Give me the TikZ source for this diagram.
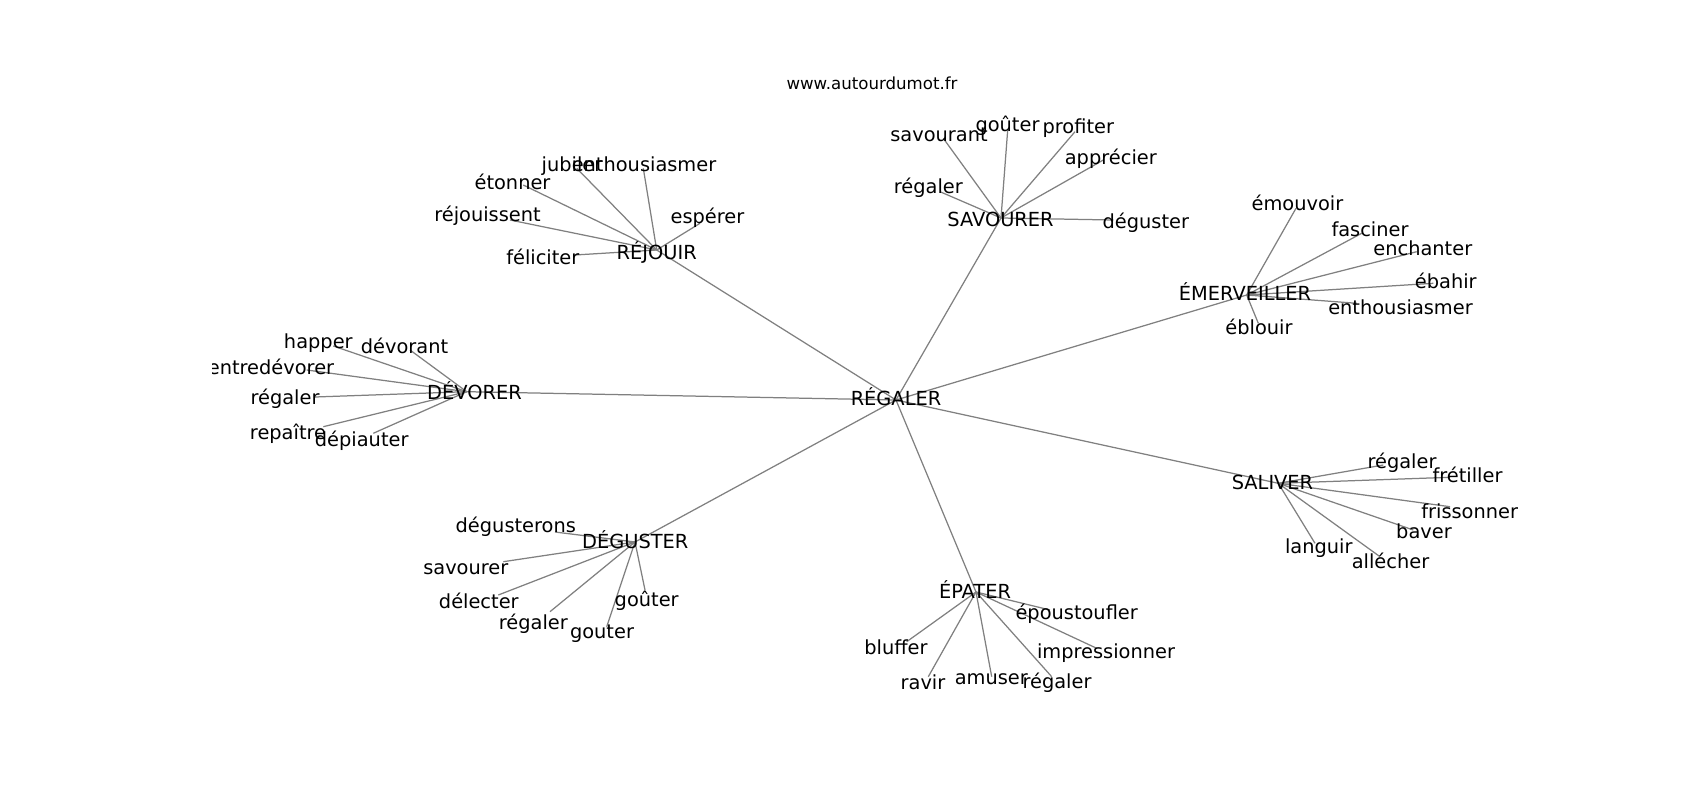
\documentclass[tikz,border=0pt]{standalone}
\usepackage{fontspec}
\setmainfont{DejaVu Sans}
\usetikzlibrary{backgrounds}

\begin{document}
\begin{tikzpicture}[x=0.01in, y=-0.01in,
              word/.style = {anchor=base, inner sep=0pt, yshift=-1pt, font=\fontsize{14}{16}\selectfont},
              link/.style = {draw=black!50, line width=0.9pt}]
  \useasboundingbox (0,0) rectangle (1700,800);
  \node[word, font=\fontsize{12}{14}\selectfont] (site) at (872,88) {www.autourdumot.fr};
  \begin{scope}
  \clip (212.5,96) rectangle (1530,712);
  % centre
  \coordinate (regaler) at (896,400);
  \node[word] (regaler-t) at (896,404) {RÉGALER};
  % hubs: name/point/label/text
  \foreach \n/\px/\py/\lx/\ly/\t in {
      rejouir/656.7/250/656.7/258.3/RÉJOUIR,
      savourer/1001/218/1000.5/225/SAVOURER,
      emerveiller/1246.7/295/1245/299.3/ÉMERVEILLER,
      saliver/1278.3/483.3/1272.5/488.3/SALIVER,
      epater/976/592/975/596.7/ÉPATER,
      deguster/635/542/635.3/546.7/DÉGUSTER,
      devorer/466.7/391.7/474.5/398.3/DÉVORER}{
    \coordinate (\n) at (\px,\py);
    \node[word] (\n-t) at (\lx,\ly) {\t};
    \begin{scope}[on background layer]
      \draw[link] (regaler) -- (\n);
    \end{scope}
  }
  % leaves of RÉJOUIR
  \foreach \n/\px/\py/\lx/\ly/\t in {
      feliciter/575/255/542.8/262.7/féliciter,
      rejouissent/510/220/487.5/220/réjouissent,
      etonner/523.3/185/512.5/188.3/étonner,
      jubiler/576.7/168.3/572/170/jubiler,
      enthousiasmerA/643.3/168.3/644/170/enthousiasmer,
      esperer/700/223.3/707.5/221.7/espérer}{
    \coordinate (\n) at (\px,\py);
    \node[word] (\n-t) at (\lx,\ly) {\t};
    \begin{scope}[on background layer]
      \draw[link] (rejouir) -- (\n);
    \end{scope}
  }
  % leaves of SAVOURER
  \foreach \n/\px/\py/\lx/\ly/\t in {
      savourant/943.3/138.3/939/140/savourant,
      gouterA/1007.7/130/1007.5/130/goûter,
      profiter/1075/131.7/1078.3/131.7/profiter,
      apprecier/1103.3/160/1110.8/162.7/apprécier,
      regalerA/940/191.7/928.3/191.7/régaler,
      degusterA/1113.3/220/1145.8/226.7/déguster}{
    \coordinate (\n) at (\px,\py);
    \node[word] (\n-t) at (\lx,\ly) {\t};
    \begin{scope}[on background layer]
      \draw[link] (savourer) -- (\n);
    \end{scope}
  }
  % leaves of ÉMERVEILLER
  \foreach \n/\px/\py/\lx/\ly/\t in {
      emouvoir/1296/208.3/1297.5/209.3/émouvoir,
      fasciner/1361.7/233.3/1370/235/fasciner,
      enchanter/1416.7/251.7/1422.8/254/enchanter,
      ebahir/1433.3/283.3/1445.8/286.7/ébahir,
      enthousiasmerB/1356.7/303.3/1400.5/312.7/enthousiasmer,
      eblouir/1258.3/323.3/1259/333.3/éblouir}{
    \coordinate (\n) at (\px,\py);
    \node[word] (\n-t) at (\lx,\ly) {\t};
    \begin{scope}[on background layer]
      \draw[link] (emerveiller) -- (\n);
    \end{scope}
  }
  % leaves of SALIVER
  \foreach \n/\px/\py/\lx/\ly/\t in {
      regalerB/1383.3/465/1402/466.7/régaler,
      fretiller/1450/477.3/1467.5/480.7/frétiller,
      frissonner/1450/506.7/1469.7/516.7/frissonner,
      baver/1413.3/530/1424/537.3/baver,
      languir/1315/543.3/1318.8/551.7/languir,
      allecher/1380/556.7/1390.5/566.7/allécher}{
    \coordinate (\n) at (\px,\py);
    \node[word] (\n-t) at (\lx,\ly) {\t};
    \begin{scope}[on background layer]
      \draw[link] (saliver) -- (\n);
    \end{scope}
  }
  % leaves of ÉPATER
  \foreach \n/\px/\py/\lx/\ly/\t in {
      epoustoufler/1050/610/1076.7/618.3/époustoufler,
      impressionner/1096.7/648.3/1106/657.3/impressionner,
      bluffer/906.7/641.7/896/653.3/bluffer,
      ravir/928.3/676.7/923/688.3/ravir,
      amuser/991.7/676.7/991.3/683.3/amuser,
      regalerC/1051.7/676.7/1057/686.7/régaler}{
    \coordinate (\n) at (\px,\py);
    \node[word] (\n-t) at (\lx,\ly) {\t};
    \begin{scope}[on background layer]
      \draw[link] (epater) -- (\n);
    \end{scope}
  }
  % leaves of DÉGUSTER
  \foreach \n/\px/\py/\lx/\ly/\t in {
      degusterons/555/532/515.8/530.7/dégusterons,
      savourerA/503.3/561.7/465.8/572.7/savourer,
      delecter/498.3/595/478.8/607.3/délecter,
      regalerD/550/611.7/533.3/628.3/régaler,
      gouterB/606.7/626.7/602/637.3/gouter,
      gouterC/645/590/646.7/605/goûter}{
    \coordinate (\n) at (\px,\py);
    \node[word] (\n-t) at (\lx,\ly) {\t};
    \begin{scope}[on background layer]
      \draw[link] (deguster) -- (\n);
    \end{scope}
  }
  % leaves of DÉVORER
  \foreach \n/\px/\py/\lx/\ly/\t in {
      happer/333.3/346/318.3/346.7/happer,
      devorant/410/350/404.5/351.7/dévorant,
      entredevorer/306.7/370/271/373.3/entredévorer,
      regalerE/315/397/285/403.3/régaler,
      repaitre/323.3/426.7/288/438.3/repaître,
      depiauter/373.3/433.3/361.7/445/dépiauter}{
    \coordinate (\n) at (\px,\py);
    \node[word] (\n-t) at (\lx,\ly) {\t};
    \begin{scope}[on background layer]
      \draw[link] (devorer) -- (\n);
    \end{scope}
  }
  \end{scope}
\end{tikzpicture}
\end{document}
